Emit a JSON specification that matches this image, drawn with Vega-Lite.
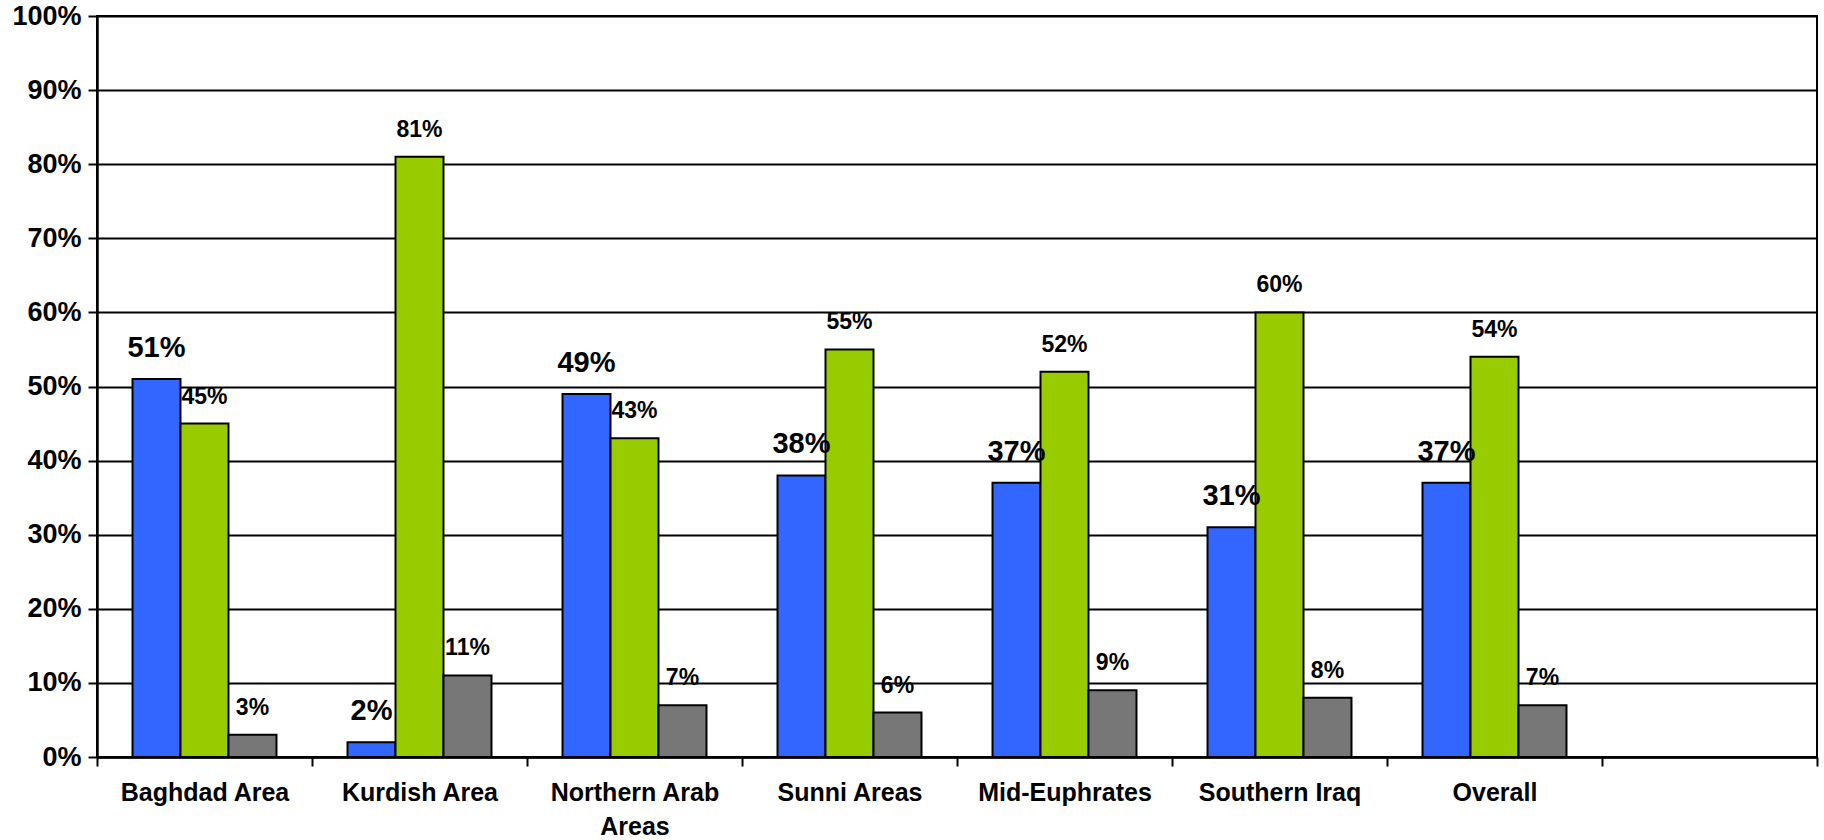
{
  "$schema": "https://vega.github.io/schema/vega-lite/v6.json",
  "width": 1720,
  "height": 741,
  "autosize": {"type": "none"},
  "padding": {"left": 97, "top": 16, "right": 7, "bottom": 83},
  "background": "white",
  "config": {"view": {"stroke": "black", "strokeWidth": 2}, "font": "Liberation Sans"},
  "data": {
    "values": [
      {"region": "Baghdad Area", "series": "A", "value": 0.51},
      {"region": "Baghdad Area", "series": "B", "value": 0.45},
      {"region": "Baghdad Area", "series": "C", "value": 0.03},
      {"region": "Kurdish Area", "series": "A", "value": 0.02},
      {"region": "Kurdish Area", "series": "B", "value": 0.81},
      {"region": "Kurdish Area", "series": "C", "value": 0.11},
      {"region": "Northern Arab Areas", "series": "A", "value": 0.49},
      {"region": "Northern Arab Areas", "series": "B", "value": 0.43},
      {"region": "Northern Arab Areas", "series": "C", "value": 0.07},
      {"region": "Sunni Areas", "series": "A", "value": 0.38},
      {"region": "Sunni Areas", "series": "B", "value": 0.55},
      {"region": "Sunni Areas", "series": "C", "value": 0.06},
      {"region": "Mid-Euphrates", "series": "A", "value": 0.37},
      {"region": "Mid-Euphrates", "series": "B", "value": 0.52},
      {"region": "Mid-Euphrates", "series": "C", "value": 0.09},
      {"region": "Southern Iraq", "series": "A", "value": 0.31},
      {"region": "Southern Iraq", "series": "B", "value": 0.60},
      {"region": "Southern Iraq", "series": "C", "value": 0.08},
      {"region": "Overall", "series": "A", "value": 0.37},
      {"region": "Overall", "series": "B", "value": 0.54},
      {"region": "Overall", "series": "C", "value": 0.07}
    ]
  },
  "encoding": {
    "x": {
      "field": "region",
      "type": "nominal",
      "sort": null,
      "scale": {
        "domain": ["Baghdad Area", "Kurdish Area", "Northern Arab Areas", "Sunni Areas", "Mid-Euphrates", "Southern Iraq", "Overall", " "],
        "paddingInner": 0,
        "paddingOuter": 0
      },
      "axis": {
        "title": null,
        "grid": false,
        "tickBand": "extent",
        "tickSize": 9,
        "tickColor": "black",
        "tickWidth": 2,
        "domainColor": "black",
        "domainWidth": 2.5,
        "labelFont": "Liberation Sans",
        "labelFontSize": 25,
        "labelFontWeight": "bold",
        "labelColor": "black",
        "labelPadding": 14,
        "labelAngle": 0,
        "labelAlign": "center",
        "labelBaseline": "top",
        "labelLineHeight": 34,
        "labelLimit": 400,
        "labelExpr": "datum.label == 'Northern Arab Areas' ? ['Northern Arab', 'Areas'] : datum.label"
      }
    },
    "xOffset": {
      "field": "series",
      "type": "nominal",
      "scale": {"paddingInner": 0, "paddingOuter": 0.74}
    },
    "y": {
      "field": "value",
      "type": "quantitative",
      "scale": {"domain": [0, 1], "nice": false},
      "axis": {
        "title": null,
        "values": [0, 0.1, 0.2, 0.3, 0.4, 0.5, 0.6, 0.7, 0.8, 0.9, 1],
        "format": ".0%",
        "grid": true,
        "gridColor": "black",
        "gridWidth": 2,
        "gridOpacity": 1,
        "tickSize": 9,
        "tickColor": "black",
        "tickWidth": 2,
        "domainColor": "black",
        "domainWidth": 2.5,
        "labelFont": "Liberation Sans",
        "labelFontSize": 27,
        "labelFontWeight": "bold",
        "labelColor": "black",
        "labelPadding": 7
      }
    }
  },
  "layer": [
    {
      "mark": {"type": "bar", "stroke": "black", "strokeWidth": 2, "opacity": 1},
      "encoding": {
        "color": {
          "field": "series",
          "type": "nominal",
          "scale": {"domain": ["A", "B", "C"], "range": ["#3366FF", "#99CC00", "#777777"]},
          "legend": null
        }
      }
    },
    {
      "transform": [{"filter": "datum.series == 'A'"}],
      "mark": {"type": "text", "font": "Liberation Sans", "fontSize": 29, "fontWeight": "bold", "color": "black", "baseline": "alphabetic", "align": "center", "dy": -22},
      "encoding": {"text": {"field": "value", "type": "quantitative", "format": ".0%"}}
    },
    {
      "transform": [{"filter": "datum.series != 'A'"}],
      "mark": {"type": "text", "font": "Liberation Sans", "fontSize": 23, "fontWeight": "bold", "color": "black", "baseline": "alphabetic", "align": "center", "dy": -20},
      "encoding": {"text": {"field": "value", "type": "quantitative", "format": ".0%"}}
    }
  ]
}
